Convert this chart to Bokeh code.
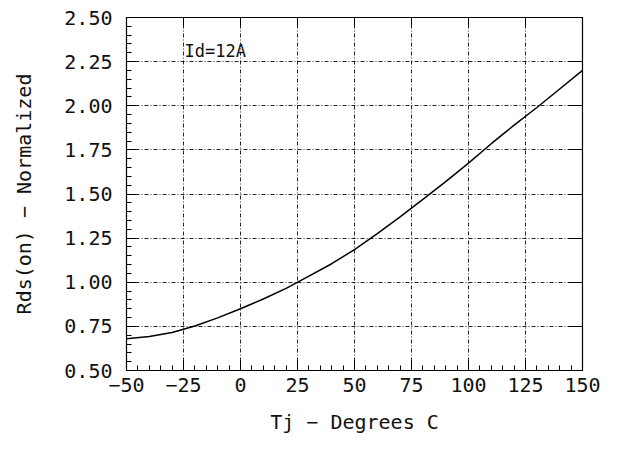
from bokeh.plotting import figure
from bokeh.models import SingleIntervalTicker, LinearAxis, Label, Range1d
from bokeh.embed import file_html
from bokeh.resources import INLINE

# Data
tj = [-50, -40, -30, -20, -10, 0, 10, 20, 30, 40, 50, 60, 70, 80, 90, 100, 110, 120, 130, 140, 150]
rds = [0.68, 0.693, 0.715, 0.752, 0.798, 0.85, 0.905, 0.965, 1.035, 1.105, 1.185, 1.275, 1.37, 1.47, 1.57, 1.675, 1.785, 1.89, 1.99, 2.095, 2.20]

x_ticks = [-50, -25, 0, 25, 50, 75, 100, 125, 150]
x_tick_labels = ["\u221250", "\u221225", "0", "25", "50", "75", "100", "125", "150"]
y_ticks = [0.5, 0.75, 1.0, 1.25, 1.5, 1.75, 2.0, 2.25, 2.5]
y_tick_labels = ["0.50", "0.75", "1.00", "1.25", "1.50", "1.75", "2.00", "2.25", "2.50"]

annotation = "Id=12A"
x_title = "Tj \u2212 Degrees C"
y_title = "Rds(on) \u2212 Normalized"

FONT = "DejaVu Sans Mono"

p = figure(width=600, height=436, output_backend="svg", toolbar_location=None,
           x_range=Range1d(-50, 150), y_range=Range1d(0.5, 2.5),
           x_axis_label=x_title, y_axis_label=y_title,
           min_border_left=126, min_border_right=18, min_border_top=17, min_border_bottom=66)
p.background_fill_color = "white"
p.border_fill_color = "white"
p.outline_line_color = "black"
p.outline_line_width = 1.2

p.xaxis.ticker = SingleIntervalTicker(interval=25, num_minor_ticks=5)
p.yaxis.ticker = SingleIntervalTicker(interval=0.25, num_minor_ticks=5)
p.xaxis.major_label_overrides = {t: l for t, l in zip(x_ticks, x_tick_labels)}
p.yaxis.major_label_overrides = {t: l for t, l in zip(y_ticks, y_tick_labels)}

for ax in (p.xaxis[0], p.yaxis[0]):
    ax.major_tick_in = 10
    ax.major_tick_out = 0
    ax.minor_tick_in = 5
    ax.minor_tick_out = 0
    ax.axis_line_color = "black"
    ax.major_tick_line_color = "black"
    ax.minor_tick_line_color = "black"
    ax.major_label_text_font = FONT
    ax.major_label_text_font_size = "20px"
    ax.major_label_text_color = "#111111"
    ax.axis_label_text_font = FONT
    ax.axis_label_text_font_size = "20px"
    ax.axis_label_text_font_style = "normal"
    ax.axis_label_text_color = "#111111"

p.xaxis.major_label_standoff = 7
p.xaxis.axis_label_standoff = 15
p.yaxis.major_label_standoff = 14
p.yaxis.axis_label_standoff = 25

# top and right axes with inward major ticks only, no labels
top = LinearAxis(ticker=SingleIntervalTicker(interval=25), major_tick_in=8, major_tick_out=0,
                 minor_tick_in=0, minor_tick_out=0,
                 major_label_overrides={t: "" for t in x_ticks})
right = LinearAxis(ticker=SingleIntervalTicker(interval=0.25), major_tick_in=14, major_tick_out=0,
                   minor_tick_in=0, minor_tick_out=0,
                   major_label_overrides={t: "" for t in y_ticks})
p.add_layout(top, "above")
p.add_layout(right, "right")

for g in (p.xgrid[0], p.ygrid[0]):
    g.grid_line_color = "black"
    g.grid_line_dash = "4 2 1 2"
    g.grid_line_width = 1
    g.grid_line_alpha = 0.85
p.xgrid.ticker = SingleIntervalTicker(interval=25)
p.ygrid.ticker = SingleIntervalTicker(interval=0.25)

p.line(tj, rds, line_color="black", line_width=1.5)

p.add_layout(Label(x=-25, y=2.31, text=annotation, text_font=FONT, text_font_size="17px",
                   text_baseline="middle", text_color="#111111", x_offset=1))

open("out.html", "w").write(file_html(p, INLINE))
